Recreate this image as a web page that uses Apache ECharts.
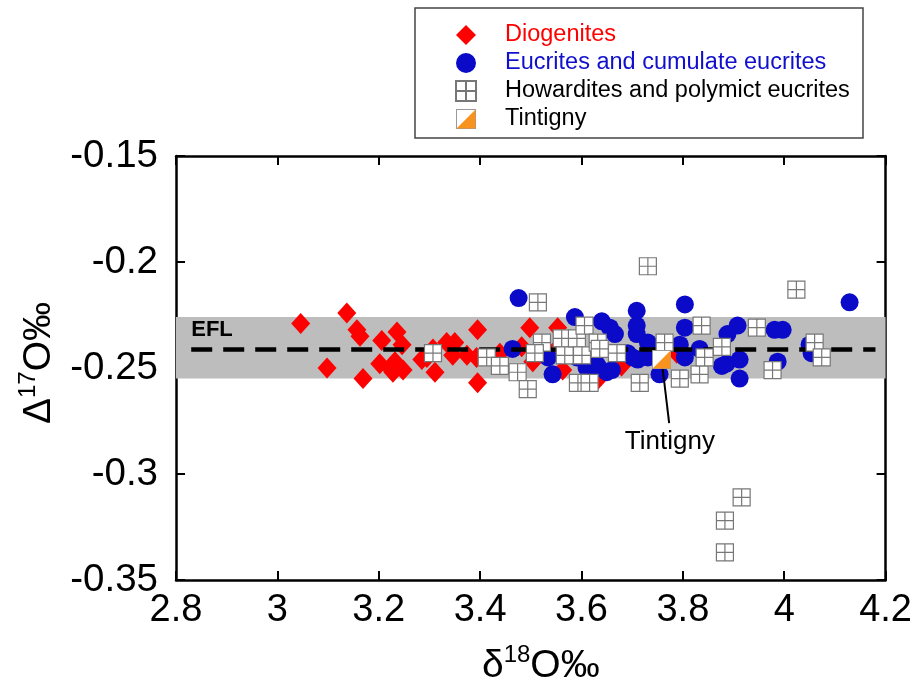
<!DOCTYPE html>
<html>
<head>
<meta charset="utf-8">
<script src="https://cdn.jsdelivr.net/npm/echarts@6/dist/echarts.min.js"></script>
<style>
  html, body { margin: 0; padding: 0; background: #fff; }
  #chart { width: 915px; height: 693px; }
</style>
</head>
<body>
<div id="chart"></div>
<script>
// tick labels / axis ranges
var xTicks = [2.8, 4.2, 0.2];
var yTicks = [-0.35, -0.15, 0.05];

// Eucrite fractionation line and its band
var eflValue = -0.241;
var eflSpan = [2.83, 4.18];
var eflBand = [-0.226, -0.255];

// Diogenites [d18O, D17O]
var diogenites = [
  [3.046, -0.229], [3.098, -0.250], [3.137, -0.224], [3.157, -0.232], [3.163, -0.235],
  [3.169, -0.255], [3.206, -0.237], [3.202, -0.248], [3.222, -0.250], [3.232, -0.247],
  [3.236, -0.233], [3.246, -0.239], [3.248, -0.251], [3.228, -0.252], [3.285, -0.246],
  [3.295, -0.245], [3.307, -0.241], [3.311, -0.252], [3.334, -0.238], [3.350, -0.238],
  [3.346, -0.244], [3.374, -0.244], [3.395, -0.232], [3.393, -0.245], [3.395, -0.257],
  [3.439, -0.243], [3.482, -0.240], [3.498, -0.231], [3.504, -0.247], [3.543, -0.243],
  [3.553, -0.231], [3.563, -0.251], [3.630, -0.256], [3.679, -0.249], [3.788, -0.243]
];

// Eucrites and cumulate eucrites
var eucrites = [
  [3.464, -0.241], [3.476, -0.217], [3.534, -0.245], [3.543, -0.253], [3.587, -0.226],
  [3.591, -0.245], [3.610, -0.250], [3.622, -0.251], [3.640, -0.228], [3.650, -0.252],
  [3.656, -0.231], [3.666, -0.234], [3.632, -0.249], [3.626, -0.245], [3.691, -0.243],
  [3.709, -0.223], [3.709, -0.230], [3.709, -0.234], [3.711, -0.246], [3.731, -0.238],
  [3.731, -0.245], [3.754, -0.253], [3.758, -0.239], [3.804, -0.220], [3.804, -0.231],
  [3.794, -0.239], [3.804, -0.245], [3.833, -0.241], [3.877, -0.249], [3.888, -0.234],
  [3.908, -0.230], [3.886, -0.248], [3.912, -0.246], [3.912, -0.255], [3.981, -0.232],
  [3.997, -0.232], [3.987, -0.247], [4.050, -0.239], [4.054, -0.243], [4.129, -0.219],
  [3.701, -0.245], [3.660, -0.251]
];

// Howardites and polymict eucrites
var howardites = [
  [3.514, -0.219], [3.307, -0.243], [3.413, -0.245], [3.439, -0.249], [3.474, -0.252],
  [3.494, -0.260], [3.522, -0.238], [3.508, -0.243], [3.561, -0.236], [3.567, -0.244],
  [3.591, -0.236], [3.606, -0.230], [3.601, -0.244], [3.632, -0.238], [3.593, -0.257],
  [3.616, -0.257], [3.670, -0.243], [3.715, -0.257], [3.764, -0.238], [3.636, -0.241],
  [3.794, -0.255], [3.833, -0.253], [3.837, -0.230], [3.843, -0.245], [3.877, -0.240],
  [3.731, -0.202], [4.024, -0.213], [3.946, -0.231], [3.977, -0.251], [4.060, -0.238],
  [4.074, -0.245], [3.916, -0.311], [3.883, -0.322], [3.883, -0.337]
];

// Tintigny and its label leader
var tintigny = [[3.758, -0.246]];
var tintignyLeader = [[3.760, -0.250], [3.773, -0.276]];

var gridSym = 'path://M0,0H10V10H0Z M5,0V10 M0,5H10';
var tintSvg = "<svg xmlns='http://www.w3.org/2000/svg' width='40' height='40'>" +
  "<rect x='1' y='1' width='38' height='38' fill='white' stroke='#999' stroke-width='2'/>" +
  "<path d='M39 1 L39 39 L1 39 Z' fill='#f7931e'/></svg>";
var tintSym = 'image://data:image/svg+xml;charset=utf-8,' + encodeURIComponent(tintSvg);

var font = 'Liberation Sans, Arial, sans-serif';
var chart = echarts.init(document.getElementById('chart'));

var axisLine = { show: true, lineStyle: { color: '#000', width: 2.5 } };
var axisTick = { show: true, inside: true, length: 9, lineStyle: { color: '#000', width: 2 } };
var nameRich = {
  d: { fontFamily: font, fontSize: 39, color: '#000', lineHeight: 46 },
  s: { fontFamily: font, fontSize: 24, color: '#000', lineHeight: 46, verticalAlign: 'top', padding: [0, 0, 16, 0] }
};

var options = {
  backgroundColor: '#fff',
  animation: false,
  grid: { left: 176, right: 29, top: 156, bottom: 113 },
  legend: {
    orient: 'vertical',
    left: 450,
    top: 18,
    itemWidth: 20,
    itemHeight: 20,
    itemGap: 4,
    textStyle: {
      fontFamily: font,
      fontSize: 23.5,
      color: '#000',
      padding: [0, 0, 0, 24]
    },
    data: [
      { name: 'Diogenites', textStyle: { color: '#ff0000' } },
      { name: 'Eucrites and cumulate eucrites', textStyle: { color: '#1010cc' } },
      { name: 'Howardites and polymict eucrites' },
      { name: 'Tintigny' }
    ]
  },
  graphic: [{
    type: 'rect',
    shape: { x: 415, y: 8, width: 448, height: 130 },
    style: { fill: 'none', stroke: '#444', lineWidth: 1.5 },
    z: 100
  }],
  xAxis: [{
    type: 'value',
    min: xTicks[0], max: xTicks[1], interval: xTicks[2],
    name: '{d|δ}{s|18}{d|O‰}',
    nameLocation: 'middle',
    nameGap: 63,
    nameTextStyle: { rich: nameRich, padding: [0, 0, 0, 20] },
    axisLine: axisLine,
    axisTick: axisTick,
    splitLine: { show: false },
    axisLabel: { fontFamily: font, fontSize: 38, color: '#000', margin: 12 }
  }, {
    type: 'value', position: 'top',
    min: xTicks[0], max: xTicks[1], interval: xTicks[2],
    axisLine: axisLine, axisTick: axisTick,
    axisLabel: { show: false }, splitLine: { show: false }
  }],
  yAxis: [{
    type: 'value',
    min: yTicks[0], max: yTicks[1], interval: yTicks[2],
    name: '{d|Δ}{s|17}{d|O‰}',
    nameLocation: 'middle',
    nameRotate: 90,
    nameGap: 114,
    nameTextStyle: { rich: nameRich, padding: [0, 0, 0, 10] },
    axisLine: axisLine,
    axisTick: axisTick,
    splitLine: { show: false },
    axisLabel: { fontFamily: font, fontSize: 38.5, color: '#000', margin: 18 }
  }, {
    type: 'value', position: 'right',
    min: yTicks[0], max: yTicks[1], interval: yTicks[2],
    axisLine: axisLine, axisTick: axisTick,
    axisLabel: { show: false }, splitLine: { show: false }
  }],
  series: [
    {
      name: 'band',
      type: 'scatter',
      data: [],
      z: 1,
      silent: true,
      markArea: {
        silent: true,
        itemStyle: { color: '#bdbdbd' },
        data: [[{ yAxis: eflBand[0] }, { yAxis: eflBand[1] }]]
      }
    },
    {
      name: 'Diogenites',
      type: 'scatter',
      symbol: 'diamond',
      symbolSize: [19, 21],
      z: 2,
      itemStyle: { color: '#ff0000', opacity: 1 },
      data: diogenites
    },
    {
      name: 'Eucrites and cumulate eucrites',
      type: 'scatter',
      symbol: 'circle',
      symbolSize: 18,
      z: 3,
      itemStyle: { color: '#0a0ac8', opacity: 1 },
      data: eucrites
    },
    {
      name: 'efl',
      type: 'scatter',
      data: [],
      z: 4,
      silent: true,
      markLine: {
        silent: true,
        symbol: 'none',
        animation: false,
        lineStyle: { color: '#000', type: [21, 11], width: 4.5 },
        label: {
          show: true,
          position: 'insideStartTop',
          formatter: 'EFL',
          fontFamily: font,
          fontWeight: 'bold',
          fontSize: 22,
          color: '#000',
          distance: [0, 8]
        },
        data: [[{ coord: [eflSpan[0], eflValue] }, { coord: [eflSpan[1], eflValue] }]]
      }
    },
    {
      name: 'Howardites and polymict eucrites',
      type: 'scatter',
      symbol: gridSym,
      symbolSize: 17,
      z: 5,
      itemStyle: { color: '#fff', borderColor: '#777', borderWidth: 1.2, opacity: 1 },
      data: howardites
    },
    {
      name: 'Tintigny',
      type: 'scatter',
      symbol: tintSym,
      symbolSize: 19,
      z: 6,
      itemStyle: { opacity: 1 },
      data: tintigny,
      markLine: {
        silent: true,
        symbol: 'none',
        lineStyle: { color: '#000', type: 'solid', width: 2 },
        label: {
          show: true,
          position: 'end',
          formatter: 'Tintigny',
          fontFamily: font,
          fontSize: 26,
          color: '#000',
          distance: 6
        },
        data: [[{ coord: tintignyLeader[0] }, { coord: tintignyLeader[1] }]]
      }
    }
  ]
};

chart.setOption(options);
</script>
</body>
</html>
